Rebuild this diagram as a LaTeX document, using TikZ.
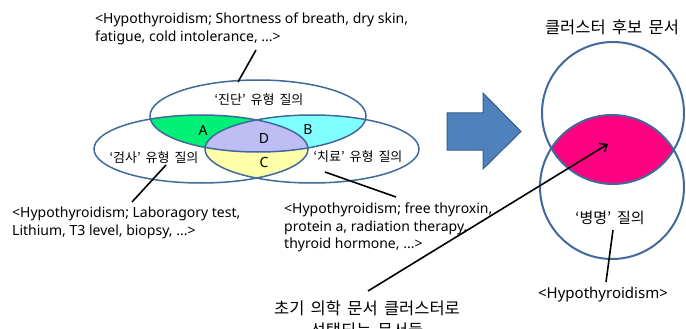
\documentclass[tikz,border=0pt]{standalone}
\usepackage{fontspec}
\setmainfont{Noto Sans}
\newfontfamily\kr[WordSpace=1.7]{Noto Sans CJK KR}
\usetikzlibrary{arrows.meta}
\definecolor{eline}{RGB}{65,105,155}
\definecolor{cA}{RGB}{0,240,120}
\definecolor{cB}{RGB}{128,255,255}
\definecolor{cC}{RGB}{255,255,170}
\definecolor{cD}{RGB}{190,190,245}
\definecolor{lensc}{RGB}{255,0,128}
\definecolor{barrow}{RGB}{79,129,189}
\definecolor{barrowd}{RGB}{56,93,138}
\tikzset{
  outl/.style={draw=eline, line width=1.5pt},
  circl/.style={draw=eline, line width=2pt},
  conn/.style={draw=black, line width=1.6pt},
  lattext/.style={inner sep=0pt, align=left, font=\fontsize{14}{18}\selectfont},
  krlabel/.style={inner sep=0pt, font=\kr\fontsize{13}{16}\selectfont},
  letter/.style={inner sep=0pt, font=\fontsize{14}{16}\selectfont},
}
\def\topE{(258,116) ellipse [x radius=108pt, y radius=36pt]}
\def\leftE{(201,149) ellipse [x radius=107pt, y radius=34pt]}
\def\rightE{(312,149) ellipse [x radius=107pt, y radius=34pt]}
\def\upC{(613,113) circle [radius=71pt]}
\def\loC{(612,187) circle [radius=72pt]}
\begin{document}
\begin{tikzpicture}[x=1pt,y=-1pt]
\clip (0,0) rectangle (686,329);
\fill[white] (0,0) rectangle (686,329);
% Venn fills
\begin{scope}\clip \topE; \fill[cA] \leftE; \end{scope}
\begin{scope}\clip \topE; \fill[cB] \rightE; \end{scope}
\begin{scope}\clip \leftE; \fill[cC] \rightE; \end{scope}
\begin{scope}\clip \topE; \clip \leftE; \fill[cD] \rightE; \end{scope}
\path[outl] \topE;
\path[outl] \leftE;
\path[outl] \rightE;
% labels inside Venn
\node[krlabel] (lt) at (259,100) {‘진단’ 유형 질의};
\node[krlabel] (ll) at (154,158) {‘검사’ 유형 질의};
\node[krlabel] (lr) at (358,157) {‘치료’ 유형 질의};
\node[letter] (A) at (203,130) {A};
\node[letter] (B) at (308,130) {B};
\node[letter] (D) at (264,139) {D};
\node[letter] (C) at (264,163) {C};
% annotation texts
\node[lattext, anchor=west] (t1) at (95,29) {<Hypothyroidism; Shortness of breath, dry skin,\\fatigue, cold intolerance, ...>};
\node[lattext, anchor=west] (t2) at (12,222.5) {<Hypothyroidism; Laboragory test,\\Lithium, T3 level, biopsy, ...>};
\node[lattext, anchor=west, font=\fontsize{14}{17.5}\selectfont] (t3) at (284,227.5) {<Hypothyroidism; free thyroxin,\\protein a, radiation therapy,\\thyroid hormone, ...>};
\coordinate (t1e) at (256,50);
\coordinate (topp) at (238,82);
\coordinate (t2e) at (132,202);
\coordinate (leftp) at (166,165);
\coordinate (t3e) at (396,197);
\coordinate (rightp) at (325,172);
\draw[conn] (t1e) -- (topp);
\draw[conn] (t2e) -- (leftp);
\draw[conn] (t3e) -- (rightp);
% block arrow
\draw[draw=barrowd, fill=barrow, line width=1pt, line join=miter]
  (447,113) -- (483,113) -- (483,93) -- (521,131.5) -- (483,169) -- (483,150) -- (447,150) -- cycle;
% right circles
\begin{scope}\clip \upC; \fill[lensc] \loC; \end{scope}
\path[circl] \upC;
\path[circl] \loC;
\node[inner sep=0pt, font=\kr\fontsize{16.5}{18}\selectfont] (title) at (612,27) {클러스터 후보 문서};
\node[inner sep=0pt, font=\kr\fontsize{15}{18}\selectfont] (bm) at (610,218) {‘병명’ 질의};
\node[inner sep=0pt, font=\fontsize{15}{18}\selectfont] (hy) at (603,295) {<Hypothyroidism>};
\coordinate (bmt) at (613,230);
\coordinate (hyt) at (606,282);
\draw[conn] (bmt) -- (hyt);
% bottom text and arrow
\node[inner sep=0pt, align=center, font=\kr\fontsize{16.5}{22}\selectfont] (bot) at (367,319) {초기 의학 문서 클러스터로\\선택되는 문서들};
\coordinate (bots) at (368,291);
\coordinate (lensp) at (608,144);
\draw[conn, -{Straight Barb[length=6pt,width=10pt]}] (bots) -- (lensp);
\end{tikzpicture}
\end{document}
